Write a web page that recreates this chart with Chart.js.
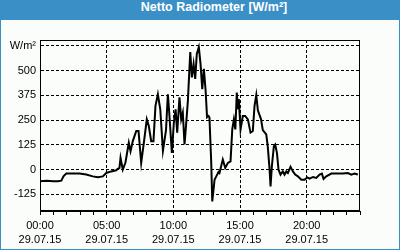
<!DOCTYPE html>
<html>
<head>
<meta charset="utf-8">
<script src="https://cdn.jsdelivr.net/npm/chart.js@4"></script>
<style>
  html, body { margin: 0; padding: 0; }
  #rahmen { position: relative; width: 400px; height: 250px; background: #3b8fc7; overflow: hidden; }
  #titel { position: absolute; left: 0; top: 0; width: 400px; height: 20px; line-height: 20px;
           padding-left: 28px; box-sizing: border-box; text-align: center; color: #fff;
           font: bold 12.5px "Liberation Sans", Arial, sans-serif; }
  #feld { position: absolute; left: 1px; top: 20px; width: 398px; height: 229px; background: #fafdfa; }
</style>
</head>
<body>
<div id="rahmen">
  <div id="titel">Netto Radiometer [W/m²]</div>
  <div id="feld"><canvas id="grafik" width="398" height="229"></canvas></div>
</div>
<script>
// Stunden seit 00:00 und Messwerte in W/m²
var stunden = [0.0, 0.5, 1.0, 1.33, 1.6, 1.76, 1.97, 2.46, 2.96, 3.47, 3.96, 4.34, 4.71, 4.97, 5.34, 5.72, 5.81, 5.96,
  6.04, 6.21, 6.41, 6.66, 6.79, 6.96, 7.22, 7.39, 7.59, 7.79, 8.01, 8.16, 8.34, 8.51, 8.66, 8.84, 9.02, 9.22,
  9.45, 9.59, 9.71, 9.89, 10.04, 10.17, 10.29, 10.46, 10.59, 10.71, 10.84, 10.97, 11.09, 11.27, 11.39, 11.52,
  11.64, 11.76, 11.91, 12.04, 12.17, 12.29, 12.42, 12.53, 12.64, 12.71, 12.84, 12.92, 12.96, 13.04, 13.09,
  13.22, 13.39, 13.46, 13.71, 13.89, 14.09, 14.29, 14.42, 14.54, 14.65, 14.76, 14.84, 14.91, 15.04, 15.21,
  15.39, 15.59, 15.79, 15.96, 16.09, 16.22, 16.34, 16.58, 16.71, 16.97, 17.08, 17.22, 17.29, 17.39, 17.54,
  17.64, 17.77, 17.89, 18.04, 18.21, 18.34, 18.47, 18.59, 18.79, 18.97, 19.14, 19.34, 19.60, 19.84, 20.05,
  20.22, 20.47, 20.72, 20.97, 21.14, 21.27, 21.47, 21.85, 22.22, 22.72, 23.09, 23.35, 23.59, 23.84];
var werte = [-59, -56, -59, -59, -56, -34, -20, -20, -20, -25, -34, -39, -34, -17, -9, -3, 3, 9,
  60, 0, 36, 136, 93, 144, 195, 195, 34, 136, 254, 220, 144, 144, 322, 381, 305, 95,
  200, 381, 271, 85, 238, 305, 187, 365, 254, 288, 127, 238, 347, 594, 466, 534,
  458, 585, 619, 534, 407, 509, 400, 265, 271, 263, 40, -161, -161, -85, -51,
  -34, -12, -17, 51, 9, 34, 42, 203, 254, 203, 390, 305, 356, 203, 271,
  271, 254, 187, 195, 322, 377, 300, 254, 200, 178, 119, 0, -85, 17, 119,
  127, 85, 0, -25, -9, -25, -9, -17, 14, -9, -25, -34, -51, -51, -39,
  -45, -37, -42, -25, -20, -47, -34, -20, -20, -20, -17, -25, -20, -25];

// Achsenbeschriftungen
var xMarken = [0, 5, 10, 15, 20];
var xTexte = ['00:00', '05:00', '10:00', '15:00', '20:00'];
var datum = '29.07.15';
var yMarken = [-125, 0, 125, 250, 375, 500, 625];
var einheit = 'W/m²';

var punkte = stunden.map(function (h, i) { return { x: h, y: werte[i] }; });

// Rahmen um die Zeichenfläche
var rahmenPlugin = {
  id: 'rahmenPlugin',
  afterDraw: function (chart) {
    var a = chart.chartArea, c = chart.ctx;
    c.save();
    c.strokeStyle = '#000';
    c.lineWidth = 1;
    c.strokeRect(a.left + 0.5, a.top + 0.5, a.right - a.left - 1, a.bottom - a.top - 1);
    c.restore();
  }
};

Chart.defaults.font.family = '"Liberation Sans", Arial, sans-serif';
Chart.defaults.font.size = 11;
Chart.defaults.color = '#000';

new Chart(document.getElementById('grafik'), {
  type: 'line',
  data: {
    datasets: [{
      data: punkte,
      borderColor: '#000',
      borderWidth: 2,
      pointRadius: 0,
      tension: 0,
      fill: false
    }]
  },
  options: {
    responsive: false,
    animation: false,
    events: [],
    layout: { padding: { top: 20, right: 39, left: 0, bottom: 0 } },
    plugins: { legend: { display: false }, tooltip: { enabled: false }, title: { display: false } },
    scales: {
      x: {
        type: 'linear',
        min: 0,
        max: 24,
        afterBuildTicks: function (s) {
          var t = [];
          for (var h = 0; h <= 24; h++) t.push({ value: h });
          s.ticks = t;
        },
        afterFit: function (s) { s.height = 38; },
        ticks: {
          autoSkip: false,
          maxRotation: 0,
          padding: 3,
          font: { lineHeight: 1.36 },
          callback: function (v) {
            var i = xMarken.indexOf(v);
            return i >= 0 ? [xTexte[i], datum] : '';
          }
        },
        grid: {
          color: function (ctx) {
            return ctx.tick && xMarken.indexOf(ctx.tick.value) >= 0 ? '#000' : 'rgba(0,0,0,0)';
          },
          tickColor: '#000',
          tickLength: 4,
          tickBorderDash: []
        },
        border: { display: true, color: '#000', dash: [3, 2] }
      },
      y: {
        min: -209,
        max: 655,
        afterBuildTicks: function (s) {
          s.ticks = yMarken.map(function (v) { return { value: v }; });
        },
        afterFit: function (s) { s.width = 39; },
        ticks: {
          padding: 4,
          callback: function (v) { return v === 625 ? einheit : v; }
        },
        grid: { color: '#000', drawTicks: false },
        border: { display: true, color: '#000', dash: [3, 2] }
      }
    }
  },
  plugins: [rahmenPlugin]
});
</script>
</body>
</html>
